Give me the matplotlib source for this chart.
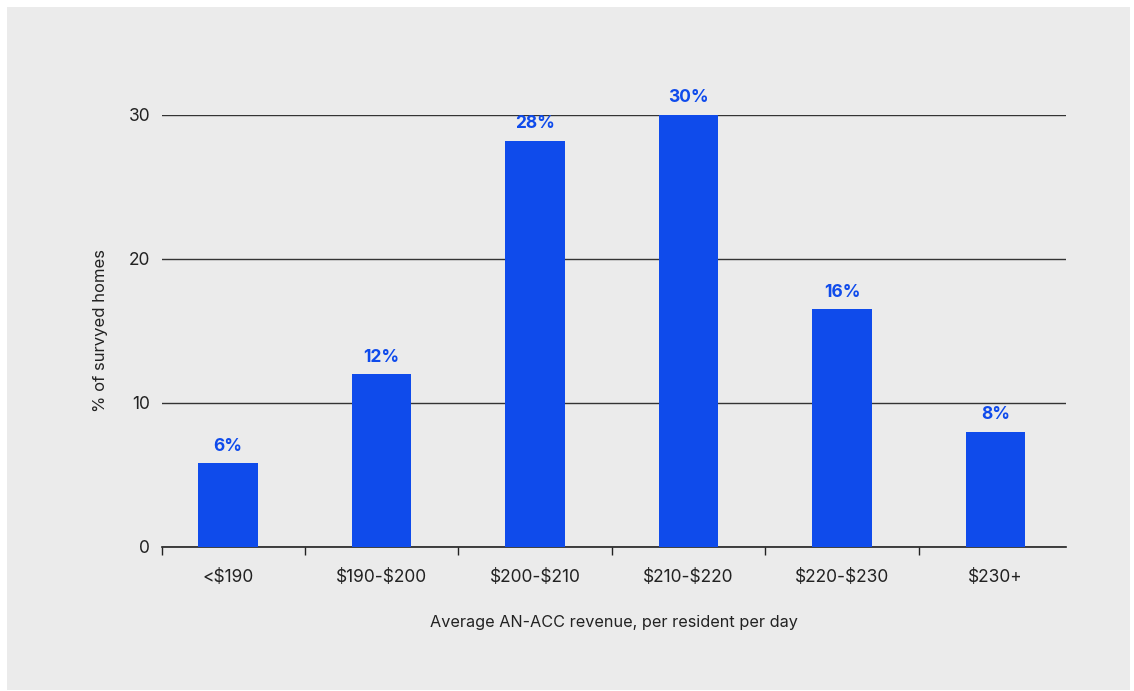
import matplotlib.pyplot as plt
from matplotlib.patches import Rectangle

# data
categories = ['<$190', '$190-$200', '$200-$210', '$210-$220', '$220-$230', '$230+']
values = [5.8, 12.0, 28.2, 30.0, 16.5, 8.0]
labels = ['6%', '12%', '28%', '30%', '16%', '8%']

blue = '#0f4beb'
bg = '#ebebeb'

plt.rcParams['font.family'] = ['Inter', 'DejaVu Sans']
plt.rcParams['text.parse_math'] = False

fig = plt.figure(figsize=(11.34, 6.91), dpi=100)
fig.patches.append(Rectangle((7 / 1134, 1 / 691), 1123 / 1134, 683 / 691,
                             transform=fig.transFigure, facecolor=bg,
                             edgecolor='none', zorder=-1))
ax = fig.add_axes([0.1429, 0.2084, 0.7972, 0.6252])
ax.set_facecolor(bg)

x = list(range(len(categories)))
ax.bar(x, values, width=0.39, color=blue, zorder=3)
for xi, v, lab in zip(x, values, labels):
    ax.text(xi, v + 0.6, lab, ha='center', va='bottom', color=blue,
            fontsize=12.5, fontweight='bold', clip_on=False)

ax.set_xlim(-0.43, 5.46)
ax.set_ylim(0, 30)
ax.set_yticks([0, 10, 20, 30])
ax.yaxis.grid(True, color='#333333', linewidth=1)
ax.set_axisbelow(True)
ax.tick_params(axis='y', length=0, pad=8.5, labelsize=12.5, colors='#222222')

ax.set_xticks(x)
ax.set_xticklabels(categories)
ax.tick_params(axis='x', which='major', length=0, pad=16, labelsize=12.5, colors='#222222')
ax.set_xticks([-0.43, 0.5, 1.5, 2.5, 3.5, 4.5], minor=True)
ax.tick_params(axis='x', which='minor', length=6, width=1, color='#222222', direction='out')

for s in ['top', 'right', 'left']:
    ax.spines[s].set_visible(False)
ax.spines['bottom'].set_color('#222222')
ax.spines['bottom'].set_linewidth(1.2)

ax.set_xlabel('Average AN-ACC revenue, per resident per day', fontsize=11.7, labelpad=21, color='#222222')
ax.set_ylabel('% of survyed homes', fontsize=12, labelpad=15, color='#222222')

fig.savefig('out.png', dpi=100)
